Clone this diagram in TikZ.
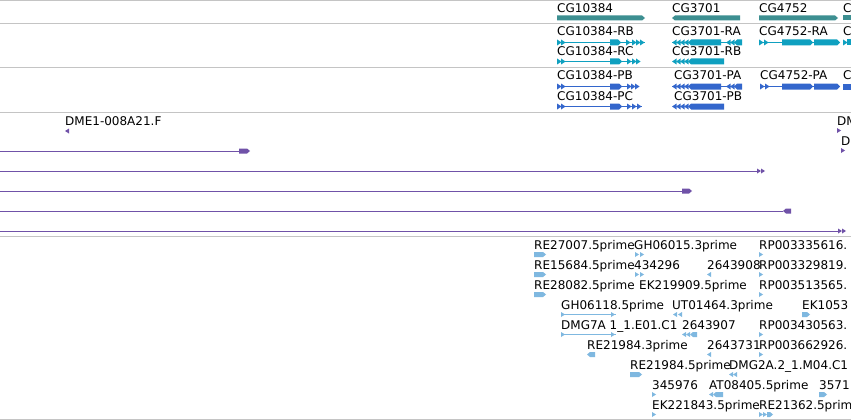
\documentclass[tikz,border=0pt]{standalone}
\usepackage{fontspec}
\setmainfont{DejaVu Sans}
\usepackage{tikz}
\definecolor{genecol}{HTML}{3D8F91}
\definecolor{rnacol}{HTML}{0FA0C0}
\definecolor{protcol}{HTML}{3366CC}
\definecolor{estcol}{HTML}{7052A8}
\definecolor{cdnacol}{HTML}{7FB8E0}
\definecolor{sepcol}{HTML}{C4C4C4}
\newcommand{\exonr}[4]{\fill (#1,#3-#4) -- (#2-3,#3-#4) -- (#2,#3) -- (#2-3,#3+#4) -- (#1,#3+#4) -- cycle;}
\newcommand{\exonl}[4]{\fill (#1,#3) -- (#1+3,#3-#4) -- (#2,#3-#4) -- (#2,#3+#4) -- (#1+3,#3+#4) -- cycle;}
\newcommand{\tipr}[3]{\fill (#1,#2-#3) -- (#1+#3+1.5,#2) -- (#1,#2+#3) -- cycle;}
\newcommand{\tipl}[3]{\fill (#1+#3+1.5,#2-#3) -- (#1,#2) -- (#1+#3+1.5,#2+#3) -- cycle;}
\tikzset{
    lbl/.style = {anchor=base west, inner sep=0pt, font=\fontsize{12}{14}\selectfont},
    sep/.style = {draw=sepcol, line width=1pt},
    intron/.style = {line width=1pt}
}

\begin{document}
\begin{tikzpicture}[x=1pt,y=-1pt,line join=round]
\useasboundingbox (0,0) rectangle (851,420);
\fill[white] (0,0) rectangle (851,420);
\clip (0,0) rectangle (851,420);
\draw [sep] (0,1) -- (851,1);
\draw [sep] (0,24) -- (851,24);
\draw [sep] (0,68) -- (851,68);
\draw [sep] (0,112) -- (851,112);
\draw [sep] (0,236) -- (851,236);
\draw [sep] (0,419) -- (851,419);
\begin{scope}[fill=genecol]
\node [lbl] (cg10384) at (557,13) {CG10384};
\exonr{557}{645}{18}{2.5}
\node [lbl] (cg3701) at (672,13) {CG3701};
\exonl{672}{740}{18}{2.5}
\node [lbl] (cg4752) at (759,13) {CG4752};
\exonr{759}{838}{18}{2.5}
\node [lbl] (cgnext) at (843,13) {C};
\fill (843,15.5) rectangle (855,20.5);
\end{scope}
\begin{scope}[fill=rnacol, draw=rnacol]
\node [lbl] (cg10384rb) at (557,36) {CG10384-RB};
\draw [intron] (557,42.5) -- (645,42.5);
\tipr{557}{42.5}{3}
\tipr{561}{42.5}{3}
\exonr{610}{621}{42.5}{3}
\tipr{626}{42.5}{3}
\tipr{632}{42.5}{3}
\tipr{636}{42.5}{3}
\tipr{640}{42.5}{3}
\node [lbl] (cg10384rc) at (557,56) {CG10384-RC};
\draw [intron] (557,61.5) -- (640,61.5);
\tipr{557}{61.5}{3}
\tipr{561}{61.5}{3}
\exonr{610}{622}{61.5}{3}
\tipr{627}{61.5}{3}
\tipr{632}{61.5}{3}
\tipr{636}{61.5}{3}
\node [lbl] (cg3701ra) at (672,36) {CG3701-RA};
\draw [intron] (672,42.5) -- (742,42.5);
\tipl{672}{42.5}{3}
\tipl{676}{42.5}{3}
\tipl{680}{42.5}{3}
\tipl{684}{42.5}{3}
\exonl{688}{721}{42.5}{3}
\tipl{726}{42.5}{3}
\tipl{730}{42.5}{3}
\exonl{734}{742}{42.5}{3}
\node [lbl] (cg3701rb) at (672,56) {CG3701-RB};
\tipl{672}{61.5}{3}
\tipl{676}{61.5}{3}
\tipl{680}{61.5}{3}
\tipl{684}{61.5}{3}
\exonl{688}{724}{61.5}{3}
\node [lbl] (cg4752ra) at (759,36) {CG4752-RA};
\draw [intron] (759,42.5) -- (840,42.5);
\tipr{759}{42.5}{3}
\tipr{764}{42.5}{3}
\exonr{782}{813}{42.5}{3}
\exonr{814}{840}{42.5}{3}
\node [lbl] (cgnextr) at (843,36) {C};
\tipr{843}{42.5}{3}
\fill (847,39.5) rectangle (855,45.5);
\end{scope}
\begin{scope}[fill=protcol, draw=protcol]
\node [lbl] (cg10384pb) at (557,80) {CG10384-PB};
\draw [intron] (557,86.5) -- (638,86.5);
\tipr{557}{86.5}{3}
\tipr{561}{86.5}{3}
\exonr{610}{622}{86.5}{3}
\tipr{627}{86.5}{3}
\tipr{631}{86.5}{3}
\tipr{635}{86.5}{3}
\node [lbl] (cg10384pc) at (557,100) {CG10384-PC};
\draw [intron] (557,106.5) -- (642,106.5);
\tipr{557}{106.5}{3}
\tipr{561}{106.5}{3}
\exonr{610}{622}{106.5}{3}
\tipr{627}{106.5}{3}
\tipr{632}{106.5}{3}
\tipr{637}{106.5}{3}
\node [lbl] (cg3701pa) at (674,80) {CG3701-PA};
\draw [intron] (672,86.5) -- (742,86.5);
\tipl{672}{86.5}{3}
\tipl{676}{86.5}{3}
\tipl{680}{86.5}{3}
\tipl{684}{86.5}{3}
\exonl{688}{721}{86.5}{3}
\tipl{726}{86.5}{3}
\tipl{730}{86.5}{3}
\exonl{734}{742}{86.5}{3}
\node [lbl] (cg3701pb) at (674,100) {CG3701-PB};
\tipl{672}{106.5}{3}
\tipl{676}{106.5}{3}
\tipl{680}{106.5}{3}
\tipl{684}{106.5}{3}
\exonl{688}{724}{106.5}{3}
\node [lbl] (cg4752pa) at (760,80) {CG4752-PA};
\draw [intron] (760,86.5) -- (840,86.5);
\tipr{760}{86.5}{3}
\tipr{765}{86.5}{3}
\exonr{782}{813}{86.5}{3}
\exonr{814}{840}{86.5}{3}
\node [lbl] (cgnextp) at (843,80) {C};
\fill (843,83.5) rectangle (855,89.5);
\end{scope}
\begin{scope}[fill=estcol, draw=estcol]
\node [lbl] (dme1) at (65,125) {DME1-008A21.F};
\tipl{65}{131}{2.5}
\node [lbl] (dmr) at (837,125) {DM};
\tipr{837}{130.5}{2.5}
\node [lbl] (dr) at (841,145) {D};
\tipr{841}{150.5}{2.5}
\draw [intron] (0,151) -- (240,151);
\exonr{239}{250}{151}{2.5}
\draw [intron] (0,171) -- (757,171);
\tipr{757}{171}{2.5}
\tipr{761}{171}{2.5}
\draw [intron] (0,191) -- (682,191);
\exonr{682}{692}{191}{2.5}
\draw [intron] (0,211) -- (783,211);
\exonl{783}{791}{211}{2.5}
\draw [intron] (0,231) -- (838,231);
\tipr{838}{231}{2.5}
\tipr{842}{231}{2.5}
\end{scope}
\begin{scope}[fill=cdnacol, draw=cdnacol]
\node [lbl] (re27007) at (534,249) {RE27007.5prime};
\exonr{534}{546}{254.5}{2.5}
\node [lbl] (gh06015) at (634,249) {GH06015.3prime};
\tipr{635}{254.5}{2.5}
\tipr{640}{254.5}{2.5}
\node [lbl] (rp335616) at (759,249) {RP003335616.};
\tipr{759}{254.5}{2.5}
\node [lbl] (re15684) at (534,269) {RE15684.5prime};
\exonr{534}{546}{274.5}{2.5}
\node [lbl] (n434296) at (634,269) {434296};
\tipr{635}{274.5}{2.5}
\tipr{640}{274.5}{2.5}
\node [lbl] (n2643908) at (707,269) {2643908};
\tipl{707}{274.5}{2.5}
\node [lbl] (rp329819) at (759,269) {RP003329819.};
\tipr{759}{274.5}{2.5}
\node [lbl] (re28082) at (534,289) {RE28082.5prime};
\exonr{534}{546}{294.5}{2.5}
\node [lbl] (ek219909) at (639,289) {EK219909.5prime};
\node [lbl] (rp513565) at (759,289) {RP003513565.};
\tipr{759}{294.5}{2.5}
\node [lbl] (gh06118) at (561,309) {GH06118.5prime};
\draw [intron] (561,314.5) -- (616,314.5);
\tipr{561}{314.5}{2.5}
\tipr{611}{314.5}{2.5}
\node [lbl] (ut01464) at (672,309) {UT01464.3prime};
\tipl{673}{314.5}{2.5}
\tipl{678}{314.5}{2.5}
\node [lbl] (ek1053) at (802,309) {EK1053};
\exonr{802}{810}{314.5}{2.5}
\node [lbl] (dmg7a) at (561,329) {DMG7A 1\_1.E01.C1};
\draw [intron] (561,334.5) -- (616,334.5);
\tipr{561}{334.5}{2.5}
\tipr{611}{334.5}{2.5}
\node [lbl] (n2643907) at (682,329) {2643907};
\tipl{682}{334.5}{2.5}
\tipl{686}{334.5}{2.5}
\exonl{690}{697}{334.5}{2.5}
\node [lbl] (rp430563) at (759,329) {RP003430563.};
\tipr{759}{334.5}{2.5}
\node [lbl] (re21984a) at (587,349) {RE21984.3prime};
\exonl{587}{595}{354.5}{2.5}
\node [lbl] (n2643731) at (707,349) {2643731};
\tipl{707}{354.5}{2.5}
\node [lbl] (rp662926) at (759,349) {RP003662926.};
\tipr{759}{354.5}{2.5}
\node [lbl] (re21984b) at (630,369) {RE21984.5prime};
\exonr{630}{642}{374.5}{2.5}
\node [lbl] (dmg2a) at (729,369) {DMG2A.2\_1.M04.C1};
\tipl{729}{374.5}{2.5}
\tipl{733}{374.5}{2.5}
\node [lbl] (n345976) at (652,389) {345976};
\tipr{652}{394.5}{2.5}
\node [lbl] (at08405) at (709,389) {AT08405.5prime};
\tipl{709}{394.5}{2.5}
\exonl{713}{723}{394.5}{2.5}
\node [lbl] (n3571) at (819,389) {3571};
\exonr{819}{827}{394.5}{2.5}
\node [lbl] (ek221843) at (652,409) {EK221843.5prime};
\tipr{652}{414.5}{2.5}
\node [lbl] (re21362) at (759,409) {RE21362.5prim};
\tipr{759}{414.5}{2.5}
\tipr{763}{414.5}{2.5}
\exonr{767}{773}{414.5}{2.5}
\end{scope}
\end{tikzpicture}
\end{document}
